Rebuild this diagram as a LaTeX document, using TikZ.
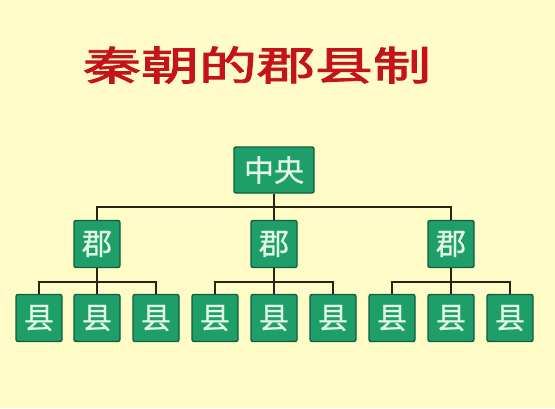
\documentclass[tikz,border=0pt]{standalone}
\usepackage{fontspec}
\usepackage{graphicx}
\newfontfamily\cjk[FakeBold=0.8]{Noto Sans CJK SC}
\newfontfamily\cjktitle[FakeBold=2]{Noto Sans CJK SC}
\definecolor{paper}{HTML}{FFFCC8}
\definecolor{boxgreen}{HTML}{1E9E68}
\definecolor{boxedge}{HTML}{0F5E3E}
\definecolor{boxtext}{HTML}{E2F8E6}
\definecolor{titlered}{HTML}{C4141A}
\definecolor{linkbrown}{HTML}{2A2212}
\begin{document}
\begin{tikzpicture}[x=1pt, y=-1pt,
  unit/.style={draw=boxedge, line width=1.4pt, fill=boxgreen, rounded corners=2pt,
    text=boxtext, font=\cjk\fontsize{30}{30}\selectfont, inner sep=0pt,
    minimum width=46pt, minimum height=47pt},
  link/.style={draw=linkbrown, line width=2.4pt}]
  \fill[paper] (0,0) rectangle (555,408);
  \useasboundingbox (0,0) rectangle (555,408);

  \node (title) at (257,65) [text=titlered, font=\cjktitle\fontsize{40}{40}\selectfont] {\scalebox{1.45}[1]{秦朝的郡县制}};

  \node (center) at (274,170) [unit, minimum width=80pt, minimum height=46pt] {中央};

  \node (jun1) at (97,244) [unit] {郡};
  \node (jun2) at (274,244) [unit] {郡};
  \node (jun3) at (451,244) [unit] {郡};

  \node (xian1) at (39,318) [unit] {县};
  \node (xian2) at (97,318) [unit] {县};
  \node (xian3) at (156,318) [unit] {县};
  \node (xian4) at (215,318) [unit] {县};
  \node (xian5) at (274,318) [unit] {县};
  \node (xian6) at (333,318) [unit] {县};
  \node (xian7) at (392,318) [unit] {县};
  \node (xian8) at (451,318) [unit] {县};
  \node (xian9) at (510,318) [unit] {县};

  \coordinate (bus0) at (274,207);
  \coordinate (bus1) at (97,282);
  \coordinate (bus2) at (274,282);
  \coordinate (bus3) at (451,282);

  \draw[link] (center.south) -- (jun2.north);
  \draw[link] (jun1.north) |- (bus0) -| (jun3.north);

  \draw[link] (jun1.south) -- (xian2.north);
  \draw[link] (xian1.north) |- (bus1) -| (xian3.north);
  \draw[link] (jun2.south) -- (xian5.north);
  \draw[link] (xian4.north) |- (bus2) -| (xian6.north);
  \draw[link] (jun3.south) -- (xian8.north);
  \draw[link] (xian7.north) |- (bus3) -| (xian9.north);
\end{tikzpicture}
\end{document}
